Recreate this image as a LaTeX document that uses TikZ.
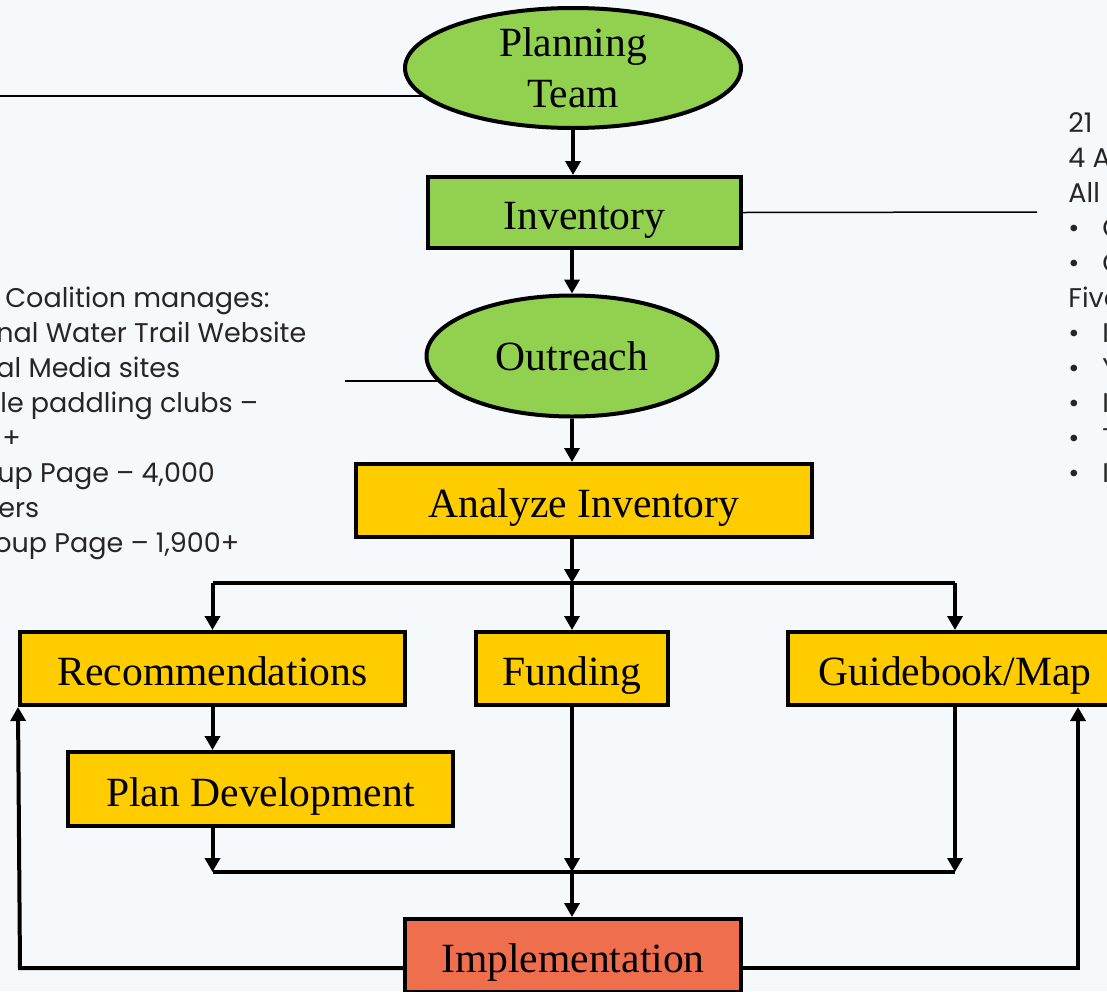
\documentclass[tikz,border=0pt]{standalone}
\usepackage{fontspec}
\setmainfont{Liberation Serif}
\newfontfamily\notefont{Poppins}
\usetikzlibrary{shapes.geometric,arrows.meta}
\definecolor{leaf}{HTML}{92D050}
\definecolor{gold}{HTML}{FFCC00}
\definecolor{coral}{HTML}{EF6E4E}
\definecolor{paper}{HTML}{F6F9FB}
\definecolor{ink}{HTML}{262626}
\pgfdeclarelayer{back}
\pgfsetlayers{back,main}

\begin{document}
\begin{tikzpicture}[x=0.5pt,y=-0.5pt,
    shape base/.style={draw,line width=2pt,inner sep=0pt,font=\fontsize{20.8}{25.5}\selectfont},
    stage/.style={shape base,fill=gold,minimum height=36.5pt,text height=17pt,text depth=0pt},
    oval/.style={shape base,ellipse,fill=leaf,align=center},
    arr/.style={line width=2pt,-{Triangle[length=7pt,width=7.5pt]}},
    link/.style={line width=2pt},
    note/.style={anchor=west,inner sep=0pt,text=ink,text height=10pt,text depth=3pt,
      font=\notefont\fontsize{13.5}{17.5}\selectfont}]
  \useasboundingbox (0,0) rectangle (1107,991);
  \clip (0,0) rectangle (1107,991);

  % boxes of the process
  \node[oval,minimum width=168pt,minimum height=60pt] (plan) at (573,68) {Planning\\Team};
  \node[stage,fill=leaf,minimum width=156.5pt,minimum height=35.5pt] (inv) at (584.5,212.5) {Inventory};
  \node[oval,minimum width=145.5pt,minimum height=60.5pt] (out) at (572,356) {Outreach};
  \node[stage,minimum width=228pt] (ana) at (584,500.5) {Analyze Inventory};
  \node[stage,minimum width=192.5pt] (rec) at (212.5,668.5) {Recommendations};
  \node[stage,minimum width=96pt] (fund) at (572,668.5) {Funding};
  \node[stage,minimum width=167pt] (guide) at (955,668.5) {Guidebook/Map};
  \node[stage,minimum width=192.5pt,minimum height=37pt] (pdev) at (260.5,789) {Plan Development};
  \node[stage,fill=coral,minimum width=168pt] (impl) at (573,955.5) {Implementation};

  \coordinate (split) at (572,583);
  \coordinate (merge) at (572,872);
  \coordinate (fbl) at (20,968);
  \coordinate (fbr) at (1078,968);
  \coordinate (toleft) at (0,96);
  \coordinate (tomid) at (345,381);
  \coordinate (toright) at (1037,212);

  % side notes, cut by the page
  \node[note] (n1) at (5,300) {Coalition manages:};
  \node[note] (n2) at (-4,335) {nal Water Trail Website};
  \node[note] (n3) at (-4,370) {al Media sites};
  \node[note] (n4) at (0,405) {le paddling clubs –};
  \node[note] (n5) at (2,440) {+};
  \node[note] (n6) at (-3,475) {up Page – 4,000};
  \node[note] (n7) at (-2,510) {ers};
  \node[note] (n8) at (-6,545) {oup Page – 1,900+};

  \node[note] (r1) at (1068,125) {21};
  \node[note] (r2) at (1068,160) {4 A};
  \node[note] (r3) at (1068,195) {All};
  \node[note] (r4) at (1068,230) {\makebox[17pt][l]{•}C};
  \node[note] (r5) at (1068,265) {\makebox[17pt][l]{•}C};
  \node[note] (r6) at (1068,300) {Five};
  \node[note] (r7) at (1068,335) {\makebox[17pt][l]{•}I};
  \node[note] (r8) at (1068,370) {\makebox[17pt][l]{•}Y};
  \node[note] (r9) at (1068,405) {\makebox[17pt][l]{•}I};
  \node[note] (r10) at (1068,440) {\makebox[17pt][l]{•}T};
  \node[note] (r11) at (1068,475) {\makebox[17pt][l]{•}I};

  \begin{pgfonlayer}{back}
    \fill[paper] (0,0) rectangle (1107,991);
    \draw[line width=0.75pt] (toleft) -- (toleft -| plan.center);
    \draw[line width=0.75pt] (tomid) -- (tomid -| out.center);
    \draw[line width=0.75pt] (inv.east) -- (toright);
  \end{pgfonlayer}

  % main column
  \draw[arr] (plan.south) -- (plan.south |- inv.north);
  \draw[arr] (out.north |- inv.south) -- (out.north);
  \draw[arr] (out.south) -- (out.south |- ana.north);
  \draw[arr] (split |- ana.south) -- (split);
  \draw[link] (split -| rec.north) -- (split -| guide.north);
  \draw[arr] (split -| rec.north) -- (rec.north);
  \draw[arr] (split) -- (fund.north);
  \draw[arr] (split -| guide.north) -- (guide.north);
  \draw[arr] (rec.south) -- (rec.south |- pdev.north);
  \draw[arr] (rec.south |- pdev.south) -- (rec.south |- merge);
  \draw[arr] (fund.south) -- (merge);
  \draw[arr] (guide.south) -- (guide.south |- merge);
  \draw[link] (rec.south |- merge) -- (guide.south |- merge);
  \draw[arr] (merge) -- (merge |- impl.north);
  % loops back
  \draw[arr] (impl.west |- fbl) -- (fbl) -- (rec.south west);
  \draw[arr] (impl.east |- fbr) -- (fbr) -- (fbr |- guide.south);
\end{tikzpicture}
\end{document}
